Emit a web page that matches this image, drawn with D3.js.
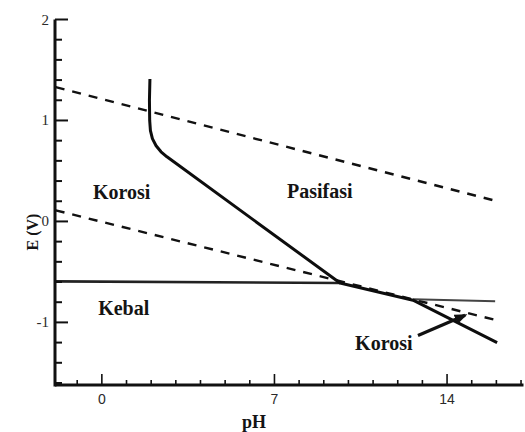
<!DOCTYPE html>
<html>
<head>
<meta charset="utf-8">
<script src="https://cdn.jsdelivr.net/npm/d3@7"></script>
<style>
  html, body { margin: 0; padding: 0; background: #fff; }
  svg { display: block; }
  .region { font-family: "Liberation Serif", "Times New Roman", serif; font-weight: bold; fill: #141414; }
</style>
</head>
<body>
<div id="chart"></div>
<script>
// --- data (pH, E in volts) ---
var xMajor = [0, 7, 14];
var xMinor = d3.range(-1, 18);
var yMajor = [-1, 0, 1, 2];
var yMinor = d3.range(-1.6, 2.01, 0.2);

var oxygenLine   = [[-1.87, 1.33], [16.03, 0.20]];
var hydrogenLine = [[-1.87, 0.11], [16.03, -0.98]];
var passiveEdge  = [[1.95, 1.41], [1.93, 1.20], [1.94, 1.00], [1.97, 0.90], [2.05, 0.82],
                    [2.2, 0.75], [2.4, 0.69], [2.64, 0.64], [9.66, -0.61], [12.62, -0.78], [16.03, -1.20]];
var immuneEdge   = [[-1.9, -0.594], [9.66, -0.61]];
var alkalineEdge = [[12.62, -0.77], [15.95, -0.79]];
var arrowLine    = [[12.82, -1.13], [14.73, -0.93]];

var labelText = ['Korosi', 'Pasifasi', 'Kebal', 'Korosi'];
var labelPH   = [-0.36, 7.51, -0.15, 10.27];
var labelE    = [0.22, 0.23, -0.93, -1.27];

var W = 525, H = 432;
var svg = d3.select('#chart').append('svg')
  .attr('width', W).attr('height', H);

var x = d3.scaleLinear().domain([-1.9, 17.1]).range([55, 523.5]);
var y = d3.scaleLinear().domain([-1.62, 2.0]).range([385, 19.5]);

var line = d3.line().x(function (d) { return x(d[0]); }).y(function (d) { return y(d[1]); });

// dashed water lines
[oxygenLine, hydrogenLine].forEach(function (pts) {
  svg.append('path')
    .attr('d', line(pts))
    .attr('fill', 'none')
    .attr('stroke', '#111')
    .attr('stroke-width', 2.4)
    .attr('stroke-dasharray', '9,8');
});

// immune boundary (horizontal)
svg.append('path')
  .attr('d', line(immuneEdge))
  .attr('fill', 'none')
  .attr('stroke', '#222')
  .attr('stroke-width', 2.6);

svg.append('path')
  .attr('d', line(alkalineEdge))
  .attr('fill', 'none')
  .attr('stroke', '#444')
  .attr('stroke-width', 2);

// passivation boundary
svg.append('path')
  .attr('d', line(passiveEdge))
  .attr('fill', 'none')
  .attr('stroke', '#0d0d0d')
  .attr('stroke-width', 3)
  .attr('stroke-linejoin', 'round');

// arrow from lower label
svg.append('defs').append('marker')
  .attr('id', 'head')
  .attr('viewBox', '0 0 10 10')
  .attr('refX', 8).attr('refY', 5)
  .attr('markerWidth', 4).attr('markerHeight', 4)
  .attr('orient', 'auto')
  .append('path').attr('d', 'M0,1 L10,5 L0,9 Z').attr('fill', '#111');

svg.append('path')
  .attr('d', line(arrowLine))
  .attr('fill', 'none')
  .attr('stroke', '#111')
  .attr('stroke-width', 3.2)
  .attr('marker-end', 'url(#head)');

// axes: ticks point inward
var xAxis = svg.append('g').attr('transform', 'translate(0,' + y.range()[0] + ')');
xAxis.selectAll('line').data(xMinor).join('line')
  .attr('x1', function (d) { return x(d); }).attr('x2', function (d) { return x(d); })
  .attr('y1', 0).attr('y2', function (d) { return xMajor.indexOf(d) >= 0 ? -11 : -5; })
  .attr('stroke', '#111').attr('stroke-width', 1.6);
xAxis.append('path')
  .attr('d', 'M' + x.range()[0] + ',0H' + x.range()[1])
  .attr('stroke', '#111').attr('stroke-width', 3);
xAxis.selectAll('text').data(xMajor).join('text')
  .attr('x', function (d) { return x(d); })
  .attr('y', 19)
  .attr('text-anchor', 'middle')
  .attr('font-family', '"Liberation Sans", Arial, sans-serif')
  .attr('font-size', 14)
  .attr('fill', '#2a2a2a')
  .text(function (d) { return d; });

var yAxis = svg.append('g').attr('transform', 'translate(' + x.range()[0] + ',0)');
yAxis.selectAll('line').data(yMinor).join('line')
  .attr('y1', function (d) { return y(d); }).attr('y2', function (d) { return y(d); })
  .attr('x1', 0).attr('x2', function (d) {
    return Math.abs(d - Math.round(d)) < 1e-6 ? 13 : 7;
  })
  .attr('stroke', '#111').attr('stroke-width', 2);
yAxis.append('path')
  .attr('d', 'M0,' + y.range()[1] + 'V' + (y.range()[0] + 1.5))
  .attr('stroke', '#111').attr('stroke-width', 3);
yAxis.selectAll('text').data(yMajor).join('text')
  .attr('x', -6)
  .attr('y', function (d) { return y(d) + 5; })
  .attr('text-anchor', 'end')
  .attr('font-family', '"Liberation Serif", "Times New Roman", serif')
  .attr('font-size', 15)
  .attr('fill', '#2a2a2a')
  .text(function (d) { return d; });

// axis titles
svg.append('text')
  .attr('class', 'region')
  .attr('transform', 'translate(38,232) rotate(-90)')
  .attr('text-anchor', 'middle')
  .attr('font-size', 16)
  .text('E (V)');

svg.append('text')
  .attr('class', 'region')
  .attr('x', 254).attr('y', 428)
  .attr('text-anchor', 'middle')
  .attr('font-size', 18)
  .text('pH');

// region labels
svg.selectAll('text.lab').data(labelText).join('text')
  .attr('class', 'region lab')
  .attr('x', function (d, i) { return x(labelPH[i]); })
  .attr('y', function (d, i) { return y(labelE[i]); })
  .attr('font-size', 20)
  .text(function (d) { return d; });
</script>
</body>
</html>
